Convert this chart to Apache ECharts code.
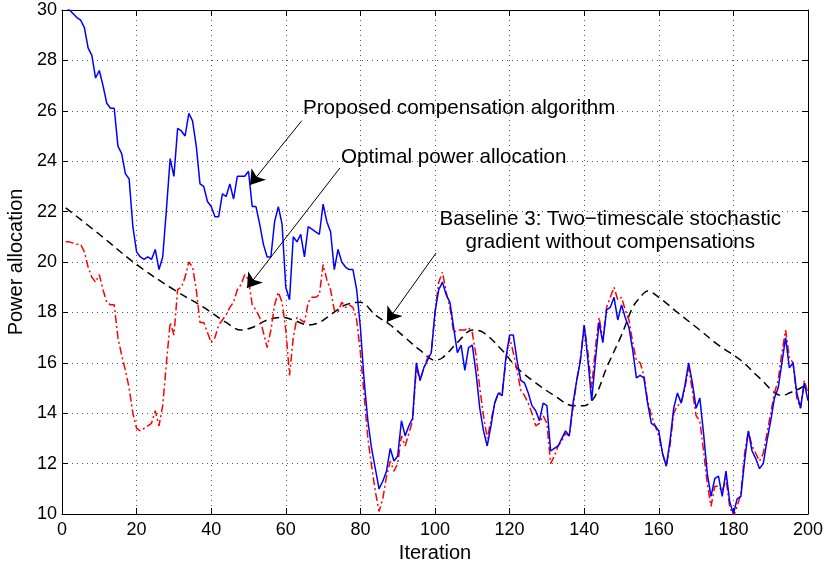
<!DOCTYPE html>
<html><head><meta charset="utf-8">
<script src="https://cdn.jsdelivr.net/npm/echarts@6/dist/echarts.min.js"></script>
<style>html,body{margin:0;padding:0;background:#fff}#c{width:824px;height:561px}</style>
</head><body><div id="c"></div>
<script>
// Iterations 1..200
const proposed = [
30.1,30.0,29.85,29.7,29.6,29.3,28.5,28.2,27.3,27.6,
27.0,26.3,26.1,26.1,24.6,24.3,23.5,23.3,21.4,20.4,
20.2,20.1,20.2,20.1,20.5,19.7,20.2,22.1,24.1,23.4,
25.3,25.2,25.0,25.9,25.6,24.6,23.1,23.0,22.4,22.2,
21.8,21.8,22.7,22.6,23.1,22.5,23.4,23.4,23.4,23.6,
22.2,22.2,21.5,20.7,20.2,20.2,21.6,22.2,21.5,19.0,
18.5,21.0,20.8,21.1,20.2,21.4,21.3,21.2,21.1,22.3,
21.6,21.2,19.7,20.5,20.0,19.8,19.7,19.7,18.9,17.4,
15.3,13.7,12.6,11.8,11.0,11.3,11.7,12.6,12.1,12.3,
13.7,13.1,13.5,13.8,16.0,15.3,15.8,16.1,16.4,18.0,
18.9,19.2,18.7,18.4,17.4,16.4,16.7,15.7,16.6,16.7,
15.6,14.2,13.3,12.7,13.5,14.4,14.8,14.7,16.2,17.1,
17.1,16.1,15.3,15.2,14.8,14.3,14.1,13.7,14.4,14.3,
12.5,12.6,12.7,13.0,13.3,13.1,14.4,15.3,16.1,17.5,
16.1,14.5,16.1,17.6,16.8,18.1,18.2,18.6,17.7,18.3,
17.8,17.4,16.5,15.4,15.5,15.4,14.4,13.6,13.5,13.3,
12.4,11.9,12.9,14.2,14.8,14.4,15.1,16.0,15.2,14.2,
14.6,13.2,11.6,10.7,11.4,11.5,10.7,11.7,10.5,10.0,
10.6,10.7,12.1,13.3,12.5,12.2,11.8,12.0,12.9,13.7,
14.6,15.0,16.0,17.0,15.8,16.0,14.8,14.2,15.2,14.5];

const optimal = [
20.8,20.8,20.75,20.7,20.7,20.4,19.8,19.4,19.2,19.5,
18.9,18.4,18.3,18.3,17.0,16.3,15.7,15.0,14.0,13.4,
13.3,13.4,13.5,13.6,14.1,13.5,14.3,16.0,17.6,17.1,
18.9,19.0,19.4,20.0,19.8,18.9,17.6,17.6,17.2,16.8,
17.0,17.5,17.7,17.9,18.2,18.4,18.9,19.1,19.5,19.3,
18.3,18.1,17.8,17.2,16.6,17.3,18.3,18.8,18.4,17.3,
15.5,17.0,17.8,17.7,17.6,18.4,18.6,18.6,18.7,19.9,
19.3,18.9,18.1,18.0,18.4,18.2,18.3,18.2,17.7,16.4,
14.7,13.0,11.9,10.9,10.1,10.6,11.5,12.1,11.7,12.0,
13.1,12.7,13.2,13.7,15.8,15.3,15.8,16.2,16.4,18.0,
19.2,19.6,18.8,18.2,17.2,17.3,17.3,17.3,17.4,17.2,
16.3,15.0,13.9,13.0,13.7,14.4,14.8,14.8,16.1,17.0,
16.4,15.7,14.9,14.7,14.4,14.0,13.5,13.6,13.9,13.6,
12.0,12.3,12.7,12.9,13.2,13.1,14.2,15.3,16.2,17.5,
16.4,15.0,16.6,17.8,16.9,18.2,18.6,19.0,18.5,18.6,
18.1,17.7,16.8,16.1,16.0,15.5,14.5,13.9,13.5,13.1,
12.4,11.9,12.7,14.0,14.3,14.4,15.0,15.8,14.9,13.9,
13.7,12.5,11.2,10.3,11.1,11.1,10.9,11.4,10.3,9.9,
10.3,10.8,12.4,13.3,12.7,12.4,12.1,12.4,13.2,14.0,
14.8,15.3,16.4,17.3,16.2,16.0,14.6,14.2,15.3,14.8];

const baselineIter = [1,10,20,30,38,44,48,51,55,59,62,66,69,72,76,80,84,88,92,96,100,102,106,110,113,118,122,127,132,137,140,143,146,150,153,155,157,160,165,171,176,182,187,193,195,198,200];
const baselineVal  = [22.15,21.1,19.9,18.9,18.2,17.6,17.3,17.4,17.7,17.8,17.7,17.5,17.6,17.9,18.3,18.4,17.9,17.5,17.0,16.5,16.1,16.2,16.8,17.3,17.2,16.5,15.8,15.2,14.7,14.3,14.3,14.7,15.8,17.1,18.2,18.6,18.85,18.6,18.0,17.3,16.7,16.1,15.4,14.7,14.8,15.0,15.2];

const seriesNames = ['Proposed compensation algorithm','Optimal power allocation','Baseline 3: Two\u2212timescale stochastic\ngradient without compensations'];

const FONT = '"Liberation Sans", Arial, Helvetica, sans-serif';
const chart = echarts.init(document.getElementById('c'), null, {renderer:'canvas'});

const pairs = arr => arr.map((v,i)=>[i+1,v]);
const basePairs = baselineIter.map((x,i)=>[x, baselineVal[i]]);

const gridLine = {show:true, lineStyle:{color:'#555', width:1, type:[1,4]}};
const option = {
  animation:false,
  backgroundColor:'#fff',
  grid:{left:62, right:16, top:10, bottom:47, containLabel:false, outerBoundsMode:'none'},
  xAxis:[{
    type:'value', min:0, max:200, interval:20, position:'bottom',
    name:'Iteration', nameLocation:'middle', nameGap:26,
    nameTextStyle:{fontFamily:FONT, fontSize:20, color:'#000'},
    axisLine:{show:true, onZero:false, lineStyle:{color:'#000', width:1}},
    axisTick:{show:true, inside:true, length:6, lineStyle:{color:'#000'}},
    axisLabel:{fontFamily:FONT, fontSize:18, color:'#000', margin:7},
    splitLine:gridLine
  },{
    type:'value', min:0, max:200, interval:20, position:'top',
    axisLine:{show:true, onZero:false, lineStyle:{color:'#000', width:1}},
    axisTick:{show:true, inside:true, length:6, lineStyle:{color:'#000'}},
    axisLabel:{show:false}, splitLine:{show:false}
  }],
  yAxis:[{
    type:'value', min:10, max:30, interval:2, position:'left',
    name:'Power allocation', nameLocation:'middle', nameGap:34,
    nameTextStyle:{fontFamily:FONT, fontSize:20, color:'#000'},
    axisLine:{show:true, onZero:false, lineStyle:{color:'#000', width:1}},
    axisTick:{show:true, inside:true, length:6, lineStyle:{color:'#000'}},
    axisLabel:{fontFamily:FONT, fontSize:18, color:'#000', margin:5},
    splitLine:gridLine
  },{
    type:'value', min:10, max:30, interval:2, position:'right',
    axisLine:{show:true, onZero:false, lineStyle:{color:'#000', width:1}},
    axisTick:{show:true, inside:true, length:6, lineStyle:{color:'#000'}},
    axisLabel:{show:false}, splitLine:{show:false}
  }],
  series:[
    {name:seriesNames[2], type:'line', data:basePairs, smooth:0.35, showSymbol:false, symbol:'none',
     lineStyle:{color:'#000', width:1.5, type:[8,5]}, z:2},
    {name:seriesNames[1], type:'line', data:pairs(optimal), showSymbol:false, symbol:'none',
     lineStyle:{color:'#ff0000', width:1.5, type:[8,3,2,3]}, z:3},
    {name:seriesNames[0], type:'line', data:pairs(proposed), showSymbol:false, symbol:'none',
     lineStyle:{color:'#0000ff', width:1.5}, z:4,
     markLine:{silent:true, symbol:['none','arrow'], symbolSize:14, animation:false,
       label:{show:false}, lineStyle:{color:'#000', width:1, type:'solid'},
       emphasis:{disabled:true},
       data:[
         [{coord:[64.3,25.61]},{coord:[50.4,23.06]}],
         [{coord:[74.5,23.73]},{coord:[49.6,18.97]}],
         [{coord:[100.3,20.36]},{coord:[87.1,17.62]}]
       ]}}
  ]
};
chart.setOption(option);

const p1 = chart.convertToPixel({gridIndex:0},[64.6,26.1]);
const p2 = chart.convertToPixel({gridIndex:0},[74.8,24.17]);
const p3 = chart.convertToPixel({gridIndex:0},[147,21.23]);
const ts = {fontFamily:FONT, fontSize:20.6, fill:'#000'};
chart.setOption({graphic:[
  {type:'text', x:p1[0], y:p1[1], style:Object.assign({text:seriesNames[0], align:'left', verticalAlign:'middle'}, ts), z:10},
  {type:'text', x:p2[0], y:p2[1], style:Object.assign({text:seriesNames[1], align:'left', verticalAlign:'middle'}, ts), z:10},
  {type:'text', x:p3[0], y:p3[1], style:Object.assign({text:seriesNames[2], align:'center', verticalAlign:'middle', lineHeight:23}, ts), z:10}
]});
</script></body></html>
